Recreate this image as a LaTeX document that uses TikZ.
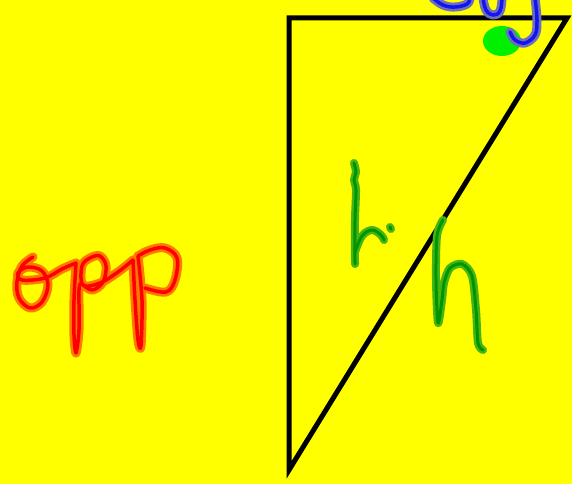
\documentclass[tikz,border=0pt]{standalone}
\definecolor{redhaloc}{RGB}{255,120,0}
\definecolor{redcorec}{RGB}{255,0,0}
\definecolor{grnhaloc}{RGB}{70,180,20}
\definecolor{grncorec}{RGB}{0,150,0}
\definecolor{bluhaloc}{RGB}{110,110,190}
\definecolor{blucorec}{RGB}{20,20,240}
\definecolor{dotc}{RGB}{0,240,0}
\definecolor{bgc}{RGB}{255,255,0}
\begin{document}
\begin{tikzpicture}[x=1pt,y=-1pt,
  tri/.style={draw=black,line width=5pt,line join=miter},
  redhalo/.style={draw=redhaloc,line width=9pt,line cap=round,line join=round},
  redcore/.style={draw=redcorec,line width=3.5pt,line cap=round,line join=round},
  grnhalo/.style={draw=grnhaloc,line width=8pt,line cap=round,line join=round},
  grncore/.style={draw=grncorec,line width=3pt,line cap=round,line join=round},
  bluhalo/.style={draw=bluhaloc,line width=9pt,line cap=round,line join=round},
  blucore/.style={draw=blucorec,line width=3.5pt,line cap=round,line join=round}]
\fill[bgc] (0,0) rectangle (572,484);
\useasboundingbox (0,0) rectangle (572,484);
% triangle
\coordinate (A) at (289,18);
\coordinate (B) at (567,18);
\coordinate (C) at (289,470);
\draw[tri] (A) -- (B) -- (C) -- cycle;
% green dot
\fill[dotc] (502,41) ellipse [x radius=19, y radius=15];
% blue adj
\foreach \s in {bluhalo,blucore}{
  \draw[\s] plot[smooth,tension=0.7] coordinates {(433,-2) (443,5) (455,7) (467,4) (470,-2)};
  \draw[\s] plot[smooth,tension=0.7] coordinates {(483,-2) (486,10) (493,15) (500,11) (502,-2)};
  \draw[\s] plot[smooth,tension=0.6] coordinates {(535,-2) (537,20) (535,35) (525,43) (515,40) (510,32)};
}
% red opp
\foreach \s in {redhalo,redcore}{
  \draw[\s] plot[smooth,tension=0.6] coordinates {(33,257) (22,266) (17,282) (19,298) (30,308) (42,302) (48,285) (42,271) (28,267) (18,273) (22,280) (45,278) (62,269) (76,263)};
  \draw[\s] plot[smooth,tension=0.5] coordinates {(76,263) (74,300) (74,335) (76,353) (79,330) (79,290) (81,283)};
  \draw[\s] plot[smooth,tension=0.6] coordinates {(81,283) (92,290) (103,282) (106,266) (100,256) (90,258) (82,266) (83,285) (100,283) (118,272) (133,260)};
  \draw[\s] plot[smooth,tension=0.5] coordinates {(133,260) (135,300) (138,340) (141,346) (142,300) (138,256)};
  \draw[\s] plot[smooth,tension=0.6] coordinates {(138,256) (150,250) (165,248) (177,258) (175,280) (166,292) (145,288)};
}
% green h's
\foreach \s in {grnhalo,grncore}{
  \draw[\s] plot[smooth,tension=0.5] coordinates {(354,163) (356,172) (354,180) (356,190) (355,220) (355,264)};
  \draw[\s] plot[smooth,tension=0.6] coordinates {(355,252) (362,236) (372,230) (381,235) (384,240)};
  \draw[\s] (390,227) -- (391,229);
  \draw[\s] plot[smooth,tension=0.5] coordinates {(443,220) (437,236) (436,280) (438,323) (442,300) (444,283) (450,268) (462,264) (472,276) (476,310) (478,343) (483,350)};
}
\end{tikzpicture}
\end{document}
